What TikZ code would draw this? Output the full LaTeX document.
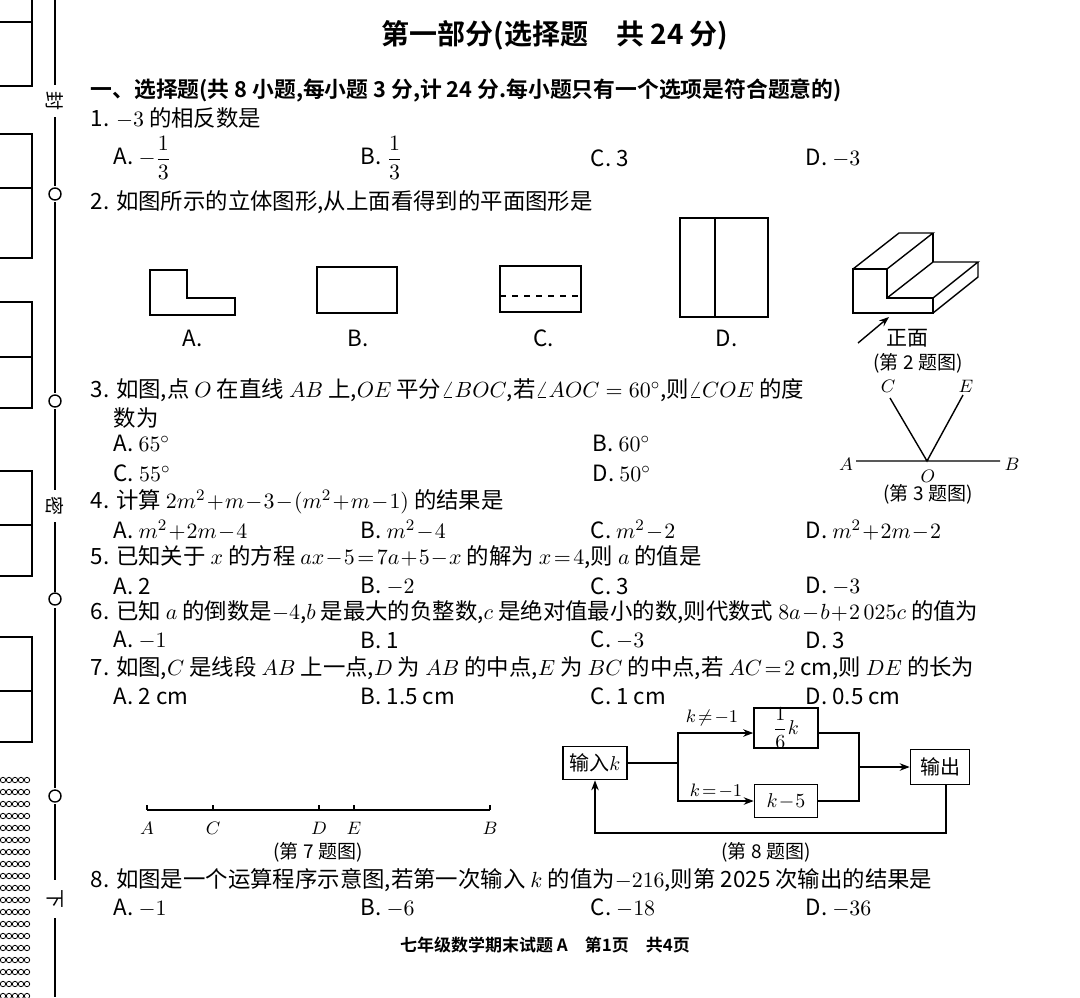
\documentclass[tikz,border=0pt]{standalone}
\usepackage{fontspec}
\setmainfont{Noto Sans CJK SC}[BoldFont={Noto Sans CJK SC Bold}]
\usetikzlibrary{arrows.meta}
\begin{document}
\begin{tikzpicture}[x=0.5pt,y=-0.5pt,line width=0.7pt,
 t/.style={anchor=west,inner sep=0pt,font=\fontsize{11.2pt}{13pt}\selectfont},
 c/.style={inner sep=0pt,font=\fontsize{9.5pt}{11pt}\selectfont},
 bx/.style={draw,line width=0.8pt,inner sep=0pt,font=\fontsize{10pt}{12pt}\selectfont},
 ar/.style={-{Stealth[length=5pt]}}]
\path[fill=white] (0,0) rectangle (1080,997);
\useasboundingbox (0,0) rectangle (1080,997);
% left margin
\foreach \a/\b/\m in {-5/86/22,134/258/188,302/408/357,471/576/525,637/742/691}{
 \draw[line width=1pt] (-2,\a) -- (32,\a) -- (32,\b) -- (-2,\b);
 \draw (0,\m) -- (32,\m);}
\draw[line width=1pt] (55,0) -- (55,85) (55,117) -- (55,186) (55,202) -- (55,393) (55,409) -- (55,490) (55,522) -- (55,592) (55,608) -- (55,788) (55,804) -- (55,880) (55,918) -- (55,997);
\foreach \y in {194,401,599,796} \draw (55,\y) circle (6);
\node[c,rotate=-90] (f) at (55,101) {封};
\node[c,rotate=-90] (mi) at (55,506) {密};
\node[c,rotate=-90] (xia) at (55,899) {下};
\foreach \y in {780,792,...,997} \foreach \x in {3,9,15,21,27} \draw[line width=0.4pt] (\x,\y) circle (2.7);
% title
\node[inner sep=0pt,font=\fontsize{14pt}{16pt}\selectfont\bfseries] (title) at (555,35) {第一部分(选择题\quad 共 24 分)};
\node[t,font=\fontsize{10.9pt}{12pt}\selectfont\bfseries] (h) at (90,90) {一、选择题(共 8 小题,每小题 3 分,计 24 分.每小题只有一个选项是符合题意的)};
% Q1
\node[t] (q1) at (90,118) {1. $-3$ 的相反数是};
\node[t] (q1a) at (113,158) {A. $\displaystyle -\frac{1}{3}$};
\node[t] (q1b) at (360,158) {B. $\displaystyle\frac{1}{3}$};
\node[t] (q1c) at (590,158) {C. 3};
\node[t] (q1d) at (805,158) {D. $-3$};
% Q2
\node[t] (q2) at (90,202) {2. 如图所示的立体图形,从上面看得到的平面图形是};
\draw (150,270) -- (187,270) -- (187,298) -- (235,298) -- (235,315) -- (150,315) -- cycle;
\draw (317,267) rectangle (397,313);
\draw (500,266) rectangle (581,312);
\draw[dashed] (500,296) -- (581,296);
\draw (680,218) rectangle (768,317);
\draw (715,218) -- (715,317);
\node[t] (la) at (182,338) {A.};
\node[t] (lb) at (347,338) {B.};
\node[t] (lc) at (533,338) {C.};
\node[t] (ld) at (715,338) {D.};
% 3D solid
\draw (853,269) -- (887,269) -- (887,298) -- (933,298) -- (933,313) -- (853,313) -- cycle;
\draw (853,269) -- (899,233) -- (933,233) -- (887,269);
\draw (933,233) -- (933,262);
\draw (887,298) -- (933,262) -- (978,262) -- (933,298);
\draw (933,313) -- (978,277) -- (978,262);
\coordinate (p0) at (858,343);
\coordinate (p1) at (889,317);
\draw[ar] (p0) -- (p1);
\node[c,font=\fontsize{10.5pt}{12pt}\selectfont] (zm) at (907,338) {正面};
\node[c] (cap2) at (918,363) {(第 2 题图)};
% Q3
\node[t] (q3) at (90,390) {3. 如图,点 $O$ 在直线 $AB$ 上,$OE$ 平分$\angle BOC$,若$\angle AOC=60^\circ$,则$\angle COE$ 的度};
\node[t] (q3b) at (113,418) {数为};
\node[t] (q3a) at (113,443) {A. $65^\circ$};
\node[t] (q3bb) at (592,443) {B. $60^\circ$};
\node[t] (q3c) at (113,473) {C. $55^\circ$};
\node[t] (q3d) at (592,473) {D. $50^\circ$};
\coordinate (O) at (927,461);
\coordinate (A) at (856,461);
\coordinate (B) at (1000,461);
\coordinate (C) at (890,398);
\coordinate (E) at (963,395);
\draw (A) -- (B) (C) -- (O) -- (E);
\node[c] (lA) at (846,464) {$A$};
\node[c] (lB) at (1012,464) {$B$};
\node[c] (lC) at (888,386) {$C$};
\node[c] (lE) at (966,386) {$E$};
\node[c] (lO) at (928,476) {$O$};
\node[c] (cap3) at (928,494) {(第 3 题图)};
% Q4
\node[t] (q4) at (90,502) {4. 计算 $2m^2\!+\!m\!-\!3\!-\!(m^2\!+\!m\!-\!1)$ 的结果是};
\node[t] (q4a) at (113,530) {A. $m^2\!+\!2m\!-\!4$};
\node[t] (q4b) at (360,530) {B. $m^2\!-\!4$};
\node[t] (q4c) at (590,530) {C. $m^2\!-\!2$};
\node[t] (q4d) at (805,530) {D. $m^2\!+\!2m\!-\!2$};
% Q5
\node[t] (q5) at (90,557) {5. 已知关于 $x$ 的方程 $ax\!-\!5\!=\!7a\!+\!5\!-\!x$ 的解为 $x\!=\!4$,则 $a$ 的值是};
\node[t] (q5a) at (113,586) {A. 2};
\node[t] (q5b) at (360,586) {B. $-2$};
\node[t] (q5c) at (590,586) {C. 3};
\node[t] (q5d) at (805,586) {D. $-3$};
% Q6
\node[t] (q6) at (90,612) {6. 已知 $a$ 的倒数是$-4$,$b$ 是最大的负整数,$c$ 是绝对值最小的数,则代数式 $8a\!-\!b\!+\!2\,025c$ 的值为};
\node[t] (q6a) at (113,640) {A. $-1$};
\node[t] (q6b) at (360,640) {B. 1};
\node[t] (q6c) at (590,640) {C. $-3$};
\node[t] (q6d) at (805,640) {D. 3};
% Q7
\node[t] (q7) at (90,668) {7. 如图,$C$ 是线段 $AB$ 上一点,$D$ 为 $AB$ 的中点,$E$ 为 $BC$ 的中点,若 $AC\!=\!2$ cm,则 $DE$ 的长为};
\node[t] (q7a) at (113,696) {A. 2 cm};
\node[t] (q7b) at (360,696) {B. 1.5 cm};
\node[t] (q7c) at (590,696) {C. 1 cm};
\node[t] (q7d) at (805,696) {D. 0.5 cm};
\coordinate (sA) at (147,810);
\coordinate (sB) at (490,810);
\draw (sA) -- (sB);
\foreach \x/\l in {147/A,213/C,319/D,354/E,490/B}{
 \draw (\x,805) -- (\x,810);
 \node[c] at (\x,828) {$\l$};}
\node[c] (cap7) at (318,852) {(第 7 题图)};
% flowchart
\node[bx,minimum width=32pt,minimum height=16.5pt] (in) at (595,763) {输入$k$};
\node[bx,minimum width=32pt,minimum height=17.5pt] (f1) at (786,728) {$\displaystyle\frac{1}{6}k$};
\node[bx,minimum width=31.5pt,minimum height=16.5pt] (f2) at (786,801) {$k\!-\!5$};
\node[bx,minimum width=29.5pt,minimum height=17.5pt] (out) at (940,767) {输出};
\coordinate (br) at (678,763);
\coordinate (bt) at (678,733);
\coordinate (bb) at (678,801);
\coordinate (mt) at (859,733);
\coordinate (mb) at (859,801);
\coordinate (mm) at (859,767);
\draw (in.east) -- (br);
\draw[ar] (br) -- (bt) -- (f1.west |- bt);
\draw[ar] (br) -- (bb) -- (f2.west);
\draw (f1.east |- mt) -- (mt) -- (mb) -- (f2.east);
\draw[ar] (mm) -- (out.west);
\coordinate (r1) at (946,833);
\coordinate (r2) at (595,833);
\draw[ar] (out.south -| r1) -- (r1) -- (r2) -- (in.south);
\node[c] (k1) at (712,718) {$k\!\neq\!-1$};
\node[c] (k2) at (716,791) {$k\!=\!-1$};
\node[c] (cap8) at (766,852) {(第 8 题图)};
% Q8
\node[t] (q8) at (90,880) {8. 如图是一个运算程序示意图,若第一次输入 $k$ 的值为$-216$,则第 2025 次输出的结果是};
\node[t] (q8a) at (113,908) {A. $-1$};
\node[t] (q8b) at (360,908) {B. $-6$};
\node[t] (q8c) at (590,908) {C. $-18$};
\node[t] (q8d) at (805,908) {D. $-36$};
\node[inner sep=0pt,font=\fontsize{8.5pt}{10pt}\selectfont\bfseries] (foot) at (545,945) {七年级数学期末试题 A\quad 第1页\quad 共4页};
\end{tikzpicture}
\end{document}
